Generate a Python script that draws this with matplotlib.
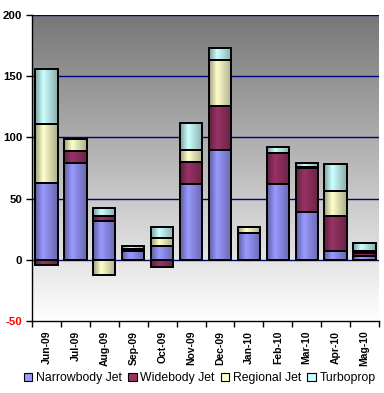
import matplotlib
matplotlib.use("Agg")
import matplotlib.pyplot as plt
import numpy as np
from matplotlib.patches import Patch
from matplotlib.colors import to_rgb

# ---- data --------------------------------------------------------------------
months = ["Jun-09", "Jul-09", "Aug-09", "Sep-09", "Oct-09", "Nov-09",
          "Dec-09", "Jan-10", "Feb-10", "Mar-10", "Apr-10", "Mag-10"]
narrowbody = [63, 79, 32, 7.5, 11.5, 62, 89.5, 21.5, 62, 39, 7, 3]
widebody = [-4, 10, 4, 1.5, -6, 17.5, 36, 0, 25, 36, 29, 2.5]
regional = [48, 9.5, -12.5, 0, 6, 10.5, 37.5, 5, 0, 0.8, 20.5, 2]
turboprop = [45, 0, 6, 2, 9, 21.5, 10, 0, 5, 3, 22, 6]

series_names = ["Narrowbody Jet", "Widebody Jet", "Regional Jet", "Turboprop"]
series_vals = [narrowbody, widebody, regional, turboprop]
colors = ["#9999FF", "#993366", "#FFFFCC", "#CCFFFF"]

plt.rcParams["font.family"] = ["Liberation Sans", "DejaVu Sans"]

fig = plt.figure(figsize=(3.84, 3.93), dpi=100)
ax = fig.add_axes([32/384, 1-321/393, 347/384, 306/393])

x = np.arange(len(months))
width = 0.77

# background gradient (dark grey on top fading to white)
grad = np.linspace(0, 1, 256).reshape(-1, 1)
bg = np.dstack([119/255 + (1 - 119/255) * grad] * 3)
ax.imshow(bg, extent=(-0.5, 11.5, -50, 200), aspect="auto",
          origin="upper", zorder=0)

# shading across each bar
shade = np.interp(np.linspace(0, 1, 40), [0, 0.35, 1], [0.62, 1.0, 0.68])

pos_bottom = np.zeros(len(months))
neg_bottom = np.zeros(len(months))
for name, vals, col in zip(series_names, series_vals, colors):
    vals = np.array(vals, dtype=float)
    bottoms = np.where(vals >= 0, pos_bottom, neg_bottom)
    bars = ax.bar(x, vals, width, bottom=bottoms, facecolor="none",
                  edgecolor="black", linewidth=1.4, zorder=3)
    rgb = np.array(to_rgb(col))
    img = np.clip(shade[None, :, None] * rgb[None, None, :], 0, 1)
    for b, v in zip(bars, vals):
        if v == 0:
            continue
        x0, y0 = b.get_x(), b.get_y()
        h = b.get_height()
        ax.imshow(img, extent=(x0, x0 + b.get_width(), min(y0, y0 + h), max(y0, y0 + h)),
                  aspect="auto", zorder=2)
    pos_bottom += np.where(vals >= 0, vals, 0)
    neg_bottom += np.where(vals < 0, vals, 0)

# gridlines
for g in [0, 50, 100, 150, 200]:
    ax.axhline(g, color="#000080", linewidth=1, zorder=1.5)

ax.set_xlim(-0.5, 11.5)
ax.set_ylim(-50, 200)
ax.set_yticks([-50, 0, 50, 100, 150, 200])
ax.set_yticklabels(["-50", "0", "50", "100", "150", "200"],
                   fontsize=8.2, fontweight="bold")
ax.get_yticklabels()[0].set_color("red")
ax.set_xticks(x)
ax.set_xticklabels(months, rotation=90, fontsize=7.5, fontweight="bold")
ax.set_xticks(np.arange(-0.5, 12, 1), minor=True)
ax.tick_params(axis="x", which="major", length=0, pad=7)
ax.tick_params(axis="x", which="minor", length=4, width=1, direction="out")
ax.tick_params(axis="y", length=4, width=1, direction="out", pad=3)
for s in ["top", "right"]:
    ax.spines[s].set_visible(False)
for s in ["left", "bottom"]:
    ax.spines[s].set_linewidth(1)
    ax.spines[s].set_zorder(4)

handles = [Patch(facecolor=c, edgecolor="black", linewidth=0.8) for c in colors]
fig.legend(handles, series_names, loc="center", bbox_to_anchor=(0.52, 0.038),
           ncol=4, frameon=False, fontsize=8.8, handlelength=0.7,
           handleheight=0.7, handletextpad=0.3, columnspacing=0.5)

fig.savefig("out.png", dpi=100)
